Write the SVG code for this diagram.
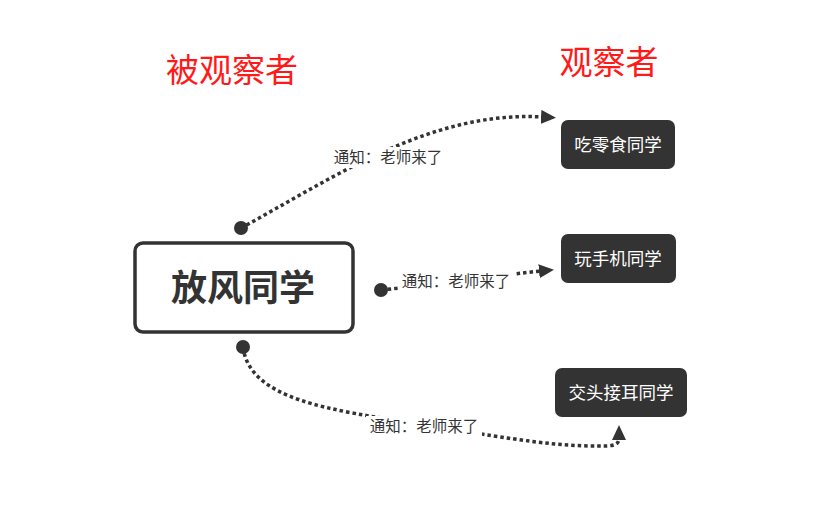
<svg xmlns="http://www.w3.org/2000/svg" width="813" height="532" viewBox="0 0 813 532">
  <defs>
    <marker id="arrow" markerUnits="userSpaceOnUse" markerWidth="16" markerHeight="14" refX="2" refY="7" orient="auto">
      <path d="M0,0 L15,7 L0,14 z" fill="#333"/>
    </marker>
    <style>
      .title { font-family: "Noto Sans CJK SC", "Liberation Sans", sans-serif; font-size: 33px; fill: #ff1a1a; text-anchor: middle; }
      .link { fill: none; stroke: #333; stroke-width: 3.5; stroke-dasharray: 3.5 3; marker-end: url(#arrow); }
      .dot { fill: #333; }
      .lbl-bg { fill: #fff; }
      .lbl { font-family: "Noto Sans CJK SC", "Liberation Sans", sans-serif; font-size: 15.5px; fill: #333; text-anchor: middle; }
      .leaf rect { fill: #333; }
      .leaf text { font-family: "Noto Sans CJK SC", "Liberation Sans", sans-serif; font-size: 17.5px; fill: #fff; text-anchor: middle; }
    </style>
  </defs>
  <rect width="813" height="532" fill="#fff"/>

  <text class="title" x="232" y="82">被观察者</text>
  <text class="title" x="609" y="74">观察者</text>

  <!-- connectors -->
  <g id="connectors">
    <path class="link" d="M241,228 C330,180 430,110 543,117"/>
    <circle class="dot" cx="241" cy="228" r="7"/>
    <rect class="lbl-bg" x="330" y="147" width="116" height="21"/>
    <text class="lbl" x="388" y="163">通知：老师来了</text>

    <path class="link" d="M381,290 C450,283 500,275 541,271"/>
    <circle class="dot" cx="381" cy="290" r="7"/>
    <rect class="lbl-bg" x="398" y="271" width="116" height="21"/>
    <text class="lbl" x="456" y="287">通知：老师来了</text>

    <path class="link" d="M243,347 C250,400 330,410 420,424 C490,435 540,445 590,446 C610,446 619,447 619,438"/>
    <circle class="dot" cx="243" cy="347" r="7"/>
    <rect class="lbl-bg" x="366" y="416" width="116" height="21"/>
    <text class="lbl" x="424" y="432">通知：老师来了</text>
  </g>

  <!-- subject -->
  <g id="node-subject">
    <rect x="135" y="243" width="218" height="89" rx="8" fill="#fff" stroke="#333" stroke-width="3.5"/>
    <text x="243" y="301" font-family="Noto Sans CJK SC, Liberation Sans, sans-serif" font-size="36" font-weight="bold" fill="#333" text-anchor="middle">放风同学</text>
  </g>

  <!-- observers -->
  <g id="node-snack" class="leaf">
    <rect x="561" y="120" width="114" height="49" rx="7"/>
    <text x="618" y="151">吃零食同学</text>
  </g>
  <g id="node-phone" class="leaf">
    <rect x="561" y="234" width="115" height="49" rx="7"/>
    <text x="618" y="265">玩手机同学</text>
  </g>
  <g id="node-whisper" class="leaf">
    <rect x="555" y="368" width="132" height="49" rx="7"/>
    <text x="621" y="399">交头接耳同学</text>
  </g>
</svg>
